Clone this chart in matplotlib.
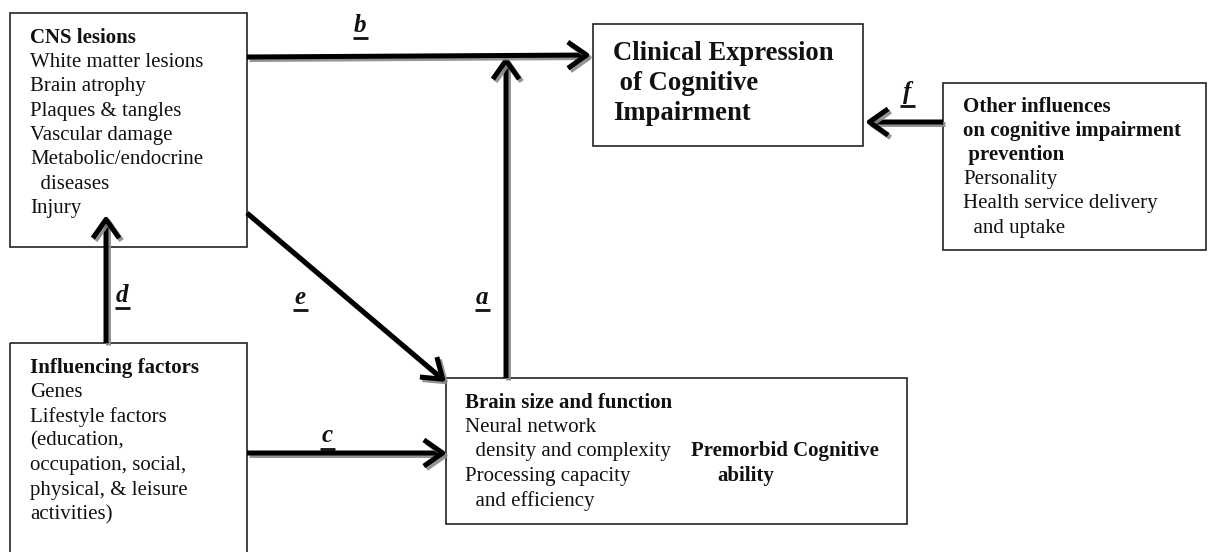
import matplotlib
matplotlib.use("Agg")
import matplotlib.pyplot as plt
from matplotlib.patches import Rectangle, FancyArrowPatch
import matplotlib.patheffects as pe

plt.rcParams['font.family'] = 'serif'
plt.rcParams['font.serif'] = ['Liberation Serif', 'Times New Roman', 'DejaVu Serif']

# ---- content ----
cns_lines = ["CNS lesions", "White matter lesions", "Brain atrophy", "Plaques & tangles",
             "Vascular damage", "Metabolic/endocrine", "  diseases", "Injury"]
cns_bold = [True, False, False, False, False, False, False, False]

infl_lines = ["Influencing factors", "Genes", "Lifestyle factors", "(education,",
              "occupation, social,", "physical, & leisure", "activities)"]
infl_bold = [True, False, False, False, False, False, False]

clin_lines = ["Clinical Expression", " of Cognitive", "Impairment"]

other_lines = ["Other influences", "on cognitive impairment", " prevention",
               "Personality", "Health service delivery", "  and uptake"]
other_bold = [True, True, True, False, False, False]

brain_lines = ["Brain size and function", "Neural network", "  density and complexity",
               "Processing capacity", "  and efficiency"]
brain_bold = [True, False, False, False, False]
premorbid_lines = ["Premorbid Cognitive", "ability"]

path_labels = ["a", "b", "c", "d", "e", "f"]

# ---- layout (pixel coordinates) ----
W, H = 1209, 552
fig = plt.figure(figsize=(W / 100, H / 100), dpi=100)
ax = fig.add_axes([0, 0, 1, 1])
ax.set_xlim(0, W)
ax.set_ylim(H, 0)
ax.axis('off')

boxes = {
    'cns': (10, 13, 247, 247),
    'infl': (10, 343, 247, 560),
    'clin': (593, 24, 863, 146),
    'other': (943, 83, 1206, 250),
    'brain': (446, 378, 907, 524),
}
for (x0, y0, x1, y1) in boxes.values():
    ax.add_patch(Rectangle((x0, y0), x1 - x0, y1 - y0, fill=False,
                           edgecolor='#222222', linewidth=1.2, zorder=2))

FS = 15.0


def put_lines(lines, bolds, x, y0, step, size=FS, xs=None):
    for i, (t, b) in enumerate(zip(lines, bolds)):
        xx = x if xs is None else xs[i]
        ax.text(xx, y0 + i * step, t, fontsize=size, va='center', ha='left',
                fontweight='bold' if b else 'normal', color='#111111', zorder=3)


put_lines(cns_lines, cns_bold, 30, 38, 24.4)
put_lines(infl_lines, infl_bold, 30, 368, 24.4)
put_lines(clin_lines, [True] * 3, 613, 53, 30, size=19.2)
put_lines(other_lines, other_bold, 963, 107, 24.2)
put_lines(brain_lines, brain_bold, 465, 403, 24.4)
put_lines(premorbid_lines, [True, True], 691, 451, 25, xs=[691, 717])

shadow = [pe.SimpleLineShadow(offset=(1.8, -1.8), shadow_color='#888888', alpha=0.9),
          pe.Normal()]


def arrow(p0, p1):
    a = FancyArrowPatch(p0, p1, arrowstyle='->,head_length=10,head_width=7',
                        mutation_scale=1.35, linewidth=3.6, color='black',
                        joinstyle='round', capstyle='butt',
                        shrinkA=0, shrinkB=0, zorder=4)
    a.set_path_effects(shadow)
    ax.add_patch(a)


arrow((506, 378), (506, 56))   # a
arrow((247, 57), (591, 55))    # b
arrow((247, 453), (447, 453))  # c
arrow((106, 343), (106, 215))  # d
arrow((247, 213), (446, 382))  # e
arrow((943, 122), (865, 122))  # f

label_pos = {'a': (482, 297), 'b': (360, 25), 'c': (327, 436),
             'd': (122, 295), 'e': (300, 297), 'f': (907, 93)}
for lab in path_labels:
    x, y = label_pos[lab]
    ax.text(x, y, lab, fontsize=18, fontweight='bold', fontstyle='italic',
            ha='center', va='center', color='#111111', zorder=5)
    ax.plot([x - 7.5, x + 7.5], [y + 13, y + 13], color='#111111', linewidth=2.0,
            solid_capstyle='butt', zorder=5)

fig.savefig('out.png', dpi=100, facecolor='white')
